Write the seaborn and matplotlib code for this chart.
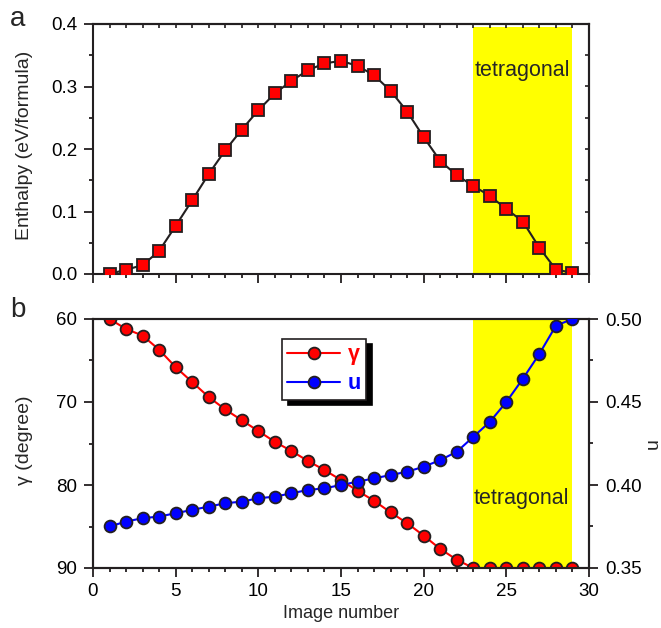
import numpy as np
import pandas as pd
import seaborn as sns
import matplotlib
matplotlib.use("Agg")
import matplotlib.pyplot as plt
from matplotlib.lines import Line2D

# ---------------- data ----------------
image = list(range(1, 30))
enthalpy = [0.000, 0.007, 0.014, 0.037, 0.077, 0.118, 0.160, 0.198, 0.231, 0.262,
            0.289, 0.309, 0.326, 0.337, 0.341, 0.333, 0.318, 0.293, 0.260, 0.219,
            0.181, 0.158, 0.141, 0.125, 0.104, 0.084, 0.042, 0.007, 0.002]
gamma = [60.0, 61.2, 62.0, 63.7, 65.8, 67.6, 69.4, 70.9, 72.2, 73.5,
         74.8, 75.9, 77.1, 78.2, 79.4, 80.7, 81.9, 83.3, 84.6, 86.1,
         87.7, 89.0, 90.0, 90.0, 90.0, 90.0, 90.0, 90.0, 90.0]
u = [0.375, 0.378, 0.380, 0.381, 0.383, 0.385, 0.387, 0.389, 0.390, 0.392,
     0.393, 0.395, 0.397, 0.398, 0.400, 0.402, 0.404, 0.406, 0.408, 0.411,
     0.415, 0.420, 0.429, 0.438, 0.450, 0.464, 0.479, 0.496, 0.500]
tetra_start, tetra_end = 23, 29
x_ticks = [0, 5, 10, 15, 20, 25, 30]
enth_ticks = [0.0, 0.1, 0.2, 0.3, 0.4]
gamma_ticks = [60, 70, 80, 90]
u_ticks = [0.35, 0.40, 0.45, 0.50]

df = pd.DataFrame({"image": image, "enthalpy": enthalpy, "gamma": gamma, "u": u})

sns.set_style("ticks")
plt.rcParams["font.family"] = ["Liberation Sans", "DejaVu Sans"]

INK = "#231F20"
plt.rcParams["axes.edgecolor"] = INK
plt.rcParams["axes.linewidth"] = 1.5
plt.rcParams["xtick.color"] = INK
plt.rcParams["ytick.color"] = INK
plt.rcParams["xtick.labelcolor"] = "black"
plt.rcParams["ytick.labelcolor"] = "black"

fig = plt.figure(figsize=(6.61, 6.28), dpi=100)
ax_a = fig.add_axes([93/661, (628-274)/628, 496/661, 250/628])
ax_b = fig.add_axes([93/661, (628-568)/628, 496/661, 249/628])

TICKFS = 13.5

def style_ticks(ax, axis):
    ax.tick_params(axis=axis, which="major", direction="out", length=6.5, width=1.3,
                   labelsize=TICKFS, pad=5)
    ax.tick_params(axis=axis, which="minor", direction="out", length=3, width=1.3)

# ---------------- panel a ----------------
ax_a.axvspan(tetra_start, tetra_end, ymin=0, ymax=0.99, color="#FFFF00", lw=0, zorder=0)
sns.lineplot(data=df, x="image", y="enthalpy", ax=ax_a, color=INK, lw=1.5,
             marker="s", markersize=8.5, markerfacecolor="#FF0000",
             markeredgecolor=INK, markeredgewidth=1.3, zorder=3)
ax_a.set_xlim(0, 30)
ax_a.set_ylim(0, 0.4)
ax_a.set_xticks(x_ticks)
ax_a.set_xticks(range(0, 31), minor=True)
ax_a.set_xticklabels([])
ax_a.set_yticks(enth_ticks)
ax_a.set_yticklabels([f"{v:.1f}" for v in enth_ticks])
ax_a.set_yticks(np.arange(0, 0.41, 0.05), minor=True)
style_ticks(ax_a, "x")
style_ticks(ax_a, "y")
ax_a.tick_params(axis="x", which="both", labelbottom=False)
ax_a.set_xlabel("")
ax_a.set_ylabel("Enthalpy (eV/formula)", fontsize=14)
ax_a.yaxis.set_label_coords(-0.121, 0.515)
ax_a.text(26, 0.326, "tetragonal", ha="center", va="center", fontsize=15.5)
# inward ticks on top and right spines
sec_top = ax_a.secondary_xaxis("top")
sec_top.set_xticks(range(0, 31))
sec_top.tick_params(direction="in", length=3, width=1.2, labeltop=False)
sec_right = ax_a.secondary_yaxis("right")
sec_right.set_yticks(np.arange(0, 0.41, 0.05))
sec_right.tick_params(direction="in", length=3, width=1.2, labelright=False)
for sp in ax_a.spines.values():
    sp.set_visible(True)

# ---------------- panel b ----------------
ax_b.axvspan(tetra_start, tetra_end, color="#FFFF00", lw=0, zorder=0)
sns.lineplot(data=df, x="image", y="gamma", ax=ax_b, color="#FF0000", lw=1.5,
             marker="o", markersize=8.5, markerfacecolor="#FF0000",
             markeredgecolor=INK, markeredgewidth=1.3, zorder=3)
ax_b.set_xlim(0, 30)
ax_b.set_ylim(90, 60)
ax_b.set_xticks(x_ticks)
ax_b.set_xticks(range(0, 31), minor=True)
ax_b.set_yticks(gamma_ticks)
ax_b.set_yticks(range(60, 91, 5), minor=True)
style_ticks(ax_b, "x")
style_ticks(ax_b, "y")
ax_b.tick_params(axis="x", which="major", pad=4)
ax_b.set_xlabel("Image number", fontsize=13, labelpad=4)
ax_b.set_ylabel("γ (degree)", fontsize=14)
ax_b.yaxis.set_label_coords(-0.121, 0.515)
ax_b.text(25.9, 81.6, "tetragonal", ha="center", va="center", fontsize=15.5)

ax_u = ax_b.twinx()
sns.lineplot(data=df, x="image", y="u", ax=ax_u, color="#0000FF", lw=1.5,
             marker="o", markersize=8.5, markerfacecolor="#0000FF",
             markeredgecolor=INK, markeredgewidth=1.3, zorder=3)
ax_u.set_ylim(0.35, 0.50)
ax_u.set_yticks(u_ticks)
ax_u.set_yticklabels([f"{v:.2f}" for v in u_ticks])
ax_u.set_yticks(np.arange(0.35, 0.501, 0.025), minor=True)
style_ticks(ax_u, "y")
ax_u.set_ylabel("u", fontsize=14)
ax_u.yaxis.set_label_coords(1.113, 0.5)
ax_u.set_xlim(0, 30)
for sp in ax_u.spines.values():
    sp.set_visible(True)
    sp.set_linewidth(1.5)

# legend
h1 = Line2D([], [], color="#FF0000", lw=1.5, marker="o", markersize=8.5,
            markerfacecolor="#FF0000", markeredgecolor=INK, markeredgewidth=1.3)
h2 = Line2D([], [], color="#0000FF", lw=1.5, marker="o", markersize=8.5,
            markerfacecolor="#0000FF", markeredgecolor=INK, markeredgewidth=1.3)
leg = ax_u.legend([h1, h2], ["γ", "u"], loc="upper left",
                  bbox_to_anchor=(0.381, 0.92), borderaxespad=0,
                  fancybox=False, framealpha=1, edgecolor=INK,
                  handlelength=2.45, handletextpad=0.35, borderpad=0.25,
                  labelspacing=0.38, prop={"size": 15.5, "weight": "bold"},
                  shadow={"ox": 4, "oy": -4, "color": "black", "alpha": 1})
leg.get_frame().set_linewidth(1.2)
leg.get_texts()[0].set_color("#FF0000")
leg.get_texts()[1].set_color("#0000FF")

# panel letters
fig.text(10/661, 1-26/628, "a", fontsize=20, ha="left", va="baseline")
fig.text(10/661, 1-317/628, "b", fontsize=20, ha="left", va="baseline")

fig.savefig("out.png", dpi=100)
